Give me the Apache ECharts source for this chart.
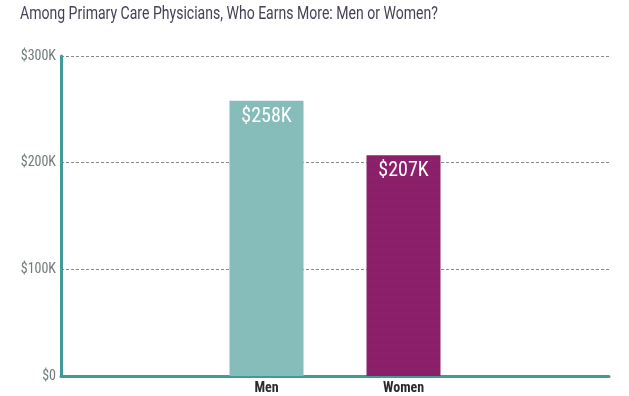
<!DOCTYPE html>
<html>
<head>
<meta charset="utf-8">
<script src="https://cdn.jsdelivr.net/npm/echarts@6/dist/echarts.min.js"></script>
<style>
  html, body { margin: 0; padding: 0; background: #ffffff; }
  #chart { width: 629px; height: 396px; }
</style>
</head>
<body>
<div id="chart"></div>
<script>
// slots on the x axis: two empty ones frame the bars
const categories = ['', 'Men', 'Women', '']
const earnings = [null, 258, 207, null]
const barColors = ['#86bcb9', '#86bcb9', '#8c1f69', '#8c1f69']
const yTicks = [0, 100, 200, 300]
const titleText = 'Among Primary Care Physicians, Who Earns More: Men or Women?'

const narrow = "'Roboto Condensed', 'Liberation Sans Narrow', 'Roboto', sans-serif"

const chart = echarts.init(document.getElementById('chart'))
chart.setOption({
  backgroundColor: '#ffffff',
  animation: false,
  // title drawn as graphic text so it can be squeezed like the condensed face
  graphic: [
    {
      type: 'text',
      left: 20,
      top: 5,
      scaleX: 0.78,
      style: {
        text: titleText,
        fill: '#463f55',
        font: "18px 'Roboto', sans-serif",
      },
    },
  ],
  grid: {
    left: 61,
    right: 20,
    top: 56,
    bottom: 20,
  },
  xAxis: {
    type: 'category',
    data: categories,
    axisTick: { show: false },
    axisLine: {
      lineStyle: { color: '#3f9a98', width: 3 },
    },
    axisLabel: {
      color: '#2b2b2b',
      fontFamily: narrow,
      fontWeight: 'bold',
      fontSize: 14,
      margin: 5,
    },
  },
  yAxis: {
    type: 'value',
    min: 0,
    max: 300,
    interval: 100,
    axisTick: { show: false },
    axisLine: {
      show: true,
      lineStyle: { color: '#3f9a98', width: 3 },
    },
    axisLabel: {
      color: '#6f7a7a',
      fontFamily: narrow,
      fontSize: 14,
      margin: 5,
      formatter: v => (yTicks.includes(v) && v > 0 ? '$' + v + 'K' : '$0'),
    },
    splitLine: {
      lineStyle: { color: '#8a8a8a', type: [3, 2], width: 1 },
    },
  },
  series: [
    {
      type: 'bar',
      barWidth: 74,
      data: earnings.map((v, i) => ({
        value: v,
        itemStyle: {
          color: barColors[i],
          decal: i === 2 ? {
            symbol: 'circle',
            symbolSize: 0.35,
            color: 'rgba(255,255,255,0.18)',
            dashArrayX: [1, 0],
            dashArrayY: [3, 5],
            rotation: 0,
          } : null,
        },
      })),
      label: {
        show: true,
        position: 'insideTop',
        distance: 6,
        color: '#ffffff',
        fontFamily: narrow,
        fontSize: 20,
        formatter: p => '$' + p.value + 'K',
      },
    },
  ],
})
</script>
</body>
</html>
